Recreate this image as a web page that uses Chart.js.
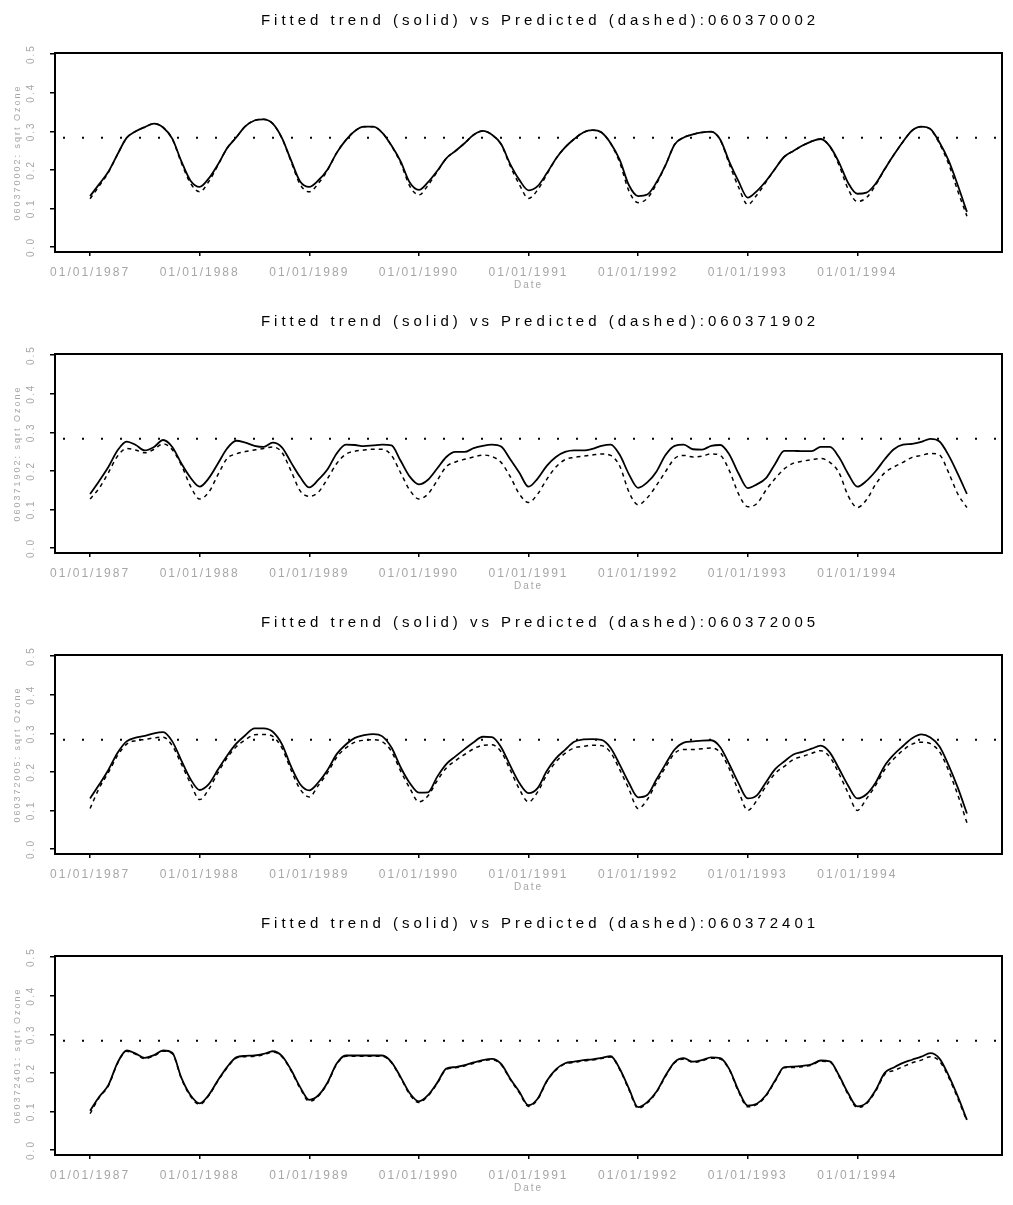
<!DOCTYPE html>
<html>
<head>
<meta charset="utf-8">
<title>Fitted trend vs Predicted</title>
<script src="https://cdn.jsdelivr.net/npm/chart.js@4.4.1/dist/chart.umd.min.js"></script>
<style>
    body { margin: 0; background: #fff; overflow: hidden; }
    #page { position: relative; width: 1013px; height: 1205px; }
    .panel { position: absolute; left: 0; width: 1013px; height: 301px; }
    .panel canvas { position: absolute; left: 0; top: 0; }
    .panel-title {
        position: absolute; left: 80px; top: 11px; width: 920px;
        text-align: center; line-height: 18px; color: #000;
        font: 15px "Liberation Sans", Arial, sans-serif; letter-spacing: 4px;
    }
</style>
</head>
<body>
<div id="page"></div>
<script>
// one panel per monitoring station
const stations = ['060370002', '060371902', '060372005', '060372401'];

// monthly values start here
const startYear = 1987;

// x axis ticks
const tickYears = [1987, 1988, 1989, 1990, 1991, 1992, 1993, 1994];
const tickLabels = ['01/01/1987', '01/01/1988', '01/01/1989', '01/01/1990',
    '01/01/1991', '01/01/1992', '01/01/1993', '01/01/1994'];

// y axis ticks
const yTicks = [0.0, 0.1, 0.2, 0.3, 0.4, 0.5];

// horizontal dotted reference level
const ozoneStandard = 0.283;

// station 060370002
const fitted0002 = [
    0.132, 0.163, 0.195, 0.240, 0.283, 0.300, 0.311, 0.320, 0.310, 0.281, 0.222, 0.172,
    0.156, 0.178, 0.214, 0.256, 0.284, 0.313, 0.328, 0.331, 0.320, 0.283, 0.225, 0.170,
    0.156, 0.173, 0.201, 0.244, 0.277, 0.301, 0.312, 0.312, 0.296, 0.263, 0.222, 0.167,
    0.148, 0.168, 0.197, 0.230, 0.249, 0.269, 0.291, 0.301, 0.291, 0.267, 0.215, 0.174,
    0.147, 0.158, 0.191, 0.229, 0.258, 0.280, 0.297, 0.303, 0.297, 0.269, 0.225, 0.160,
    0.132, 0.136, 0.167, 0.212, 0.266, 0.284, 0.292, 0.297, 0.299, 0.278, 0.220, 0.170,
    0.128, 0.145, 0.171, 0.203, 0.234, 0.249, 0.263, 0.274, 0.280, 0.261, 0.219, 0.166,
    0.138, 0.141, 0.164, 0.202, 0.239, 0.273, 0.302, 0.312, 0.306, 0.271, 0.224, 0.160,
    0.091
];
const predicted0002 = [
    0.125, 0.158, 0.193, 0.240, 0.283, 0.300, 0.311, 0.320, 0.310, 0.280, 0.218, 0.165,
    0.143, 0.170, 0.212, 0.256, 0.284, 0.313, 0.328, 0.331, 0.320, 0.282, 0.222, 0.162,
    0.143, 0.165, 0.199, 0.244, 0.277, 0.301, 0.312, 0.312, 0.296, 0.262, 0.218, 0.158,
    0.135, 0.160, 0.195, 0.230, 0.249, 0.269, 0.291, 0.301, 0.291, 0.266, 0.210, 0.162,
    0.126, 0.148, 0.188, 0.229, 0.258, 0.280, 0.297, 0.303, 0.297, 0.268, 0.218, 0.145,
    0.115, 0.126, 0.163, 0.212, 0.266, 0.284, 0.292, 0.297, 0.299, 0.277, 0.214, 0.155,
    0.110, 0.135, 0.168, 0.203, 0.234, 0.249, 0.263, 0.274, 0.280, 0.260, 0.212, 0.150,
    0.118, 0.128, 0.160, 0.202, 0.239, 0.273, 0.302, 0.312, 0.305, 0.268, 0.215, 0.145,
    0.080
];

// station 060371902
const fitted1902 = [
    0.140, 0.174, 0.210, 0.253, 0.276, 0.267, 0.253, 0.262, 0.280, 0.262, 0.219, 0.182,
    0.159, 0.181, 0.219, 0.258, 0.278, 0.273, 0.265, 0.262, 0.273, 0.261, 0.222, 0.184,
    0.157, 0.177, 0.204, 0.245, 0.268, 0.267, 0.264, 0.266, 0.268, 0.266, 0.226, 0.185,
    0.165, 0.177, 0.206, 0.236, 0.249, 0.249, 0.259, 0.265, 0.268, 0.263, 0.230, 0.195,
    0.159, 0.180, 0.213, 0.236, 0.249, 0.253, 0.253, 0.257, 0.265, 0.268, 0.241, 0.191,
    0.156, 0.170, 0.198, 0.241, 0.265, 0.268, 0.256, 0.255, 0.265, 0.267, 0.242, 0.193,
    0.155, 0.165, 0.181, 0.218, 0.252, 0.252, 0.251, 0.251, 0.262, 0.262, 0.235, 0.192,
    0.159, 0.174, 0.199, 0.230, 0.256, 0.268, 0.270, 0.275, 0.283, 0.276, 0.240, 0.192,
    0.140
];
const predicted1902 = [
    0.127, 0.155, 0.195, 0.238, 0.258, 0.254, 0.247, 0.256, 0.270, 0.255, 0.215, 0.160,
    0.127, 0.145, 0.190, 0.232, 0.244, 0.250, 0.254, 0.258, 0.262, 0.248, 0.200, 0.148,
    0.134, 0.145, 0.180, 0.219, 0.243, 0.251, 0.254, 0.256, 0.256, 0.240, 0.195, 0.150,
    0.127, 0.140, 0.175, 0.211, 0.223, 0.230, 0.236, 0.241, 0.237, 0.222, 0.185, 0.140,
    0.118, 0.140, 0.178, 0.210, 0.229, 0.235, 0.238, 0.241, 0.244, 0.240, 0.212, 0.145,
    0.112, 0.130, 0.162, 0.198, 0.232, 0.240, 0.236, 0.238, 0.244, 0.240, 0.200, 0.140,
    0.107, 0.115, 0.150, 0.180, 0.205, 0.220, 0.225, 0.229, 0.232, 0.222, 0.195, 0.135,
    0.105, 0.125, 0.165, 0.195, 0.210, 0.222, 0.235, 0.240, 0.245, 0.241, 0.195, 0.140,
    0.105
];

// station 060372005
const fitted2005 = [
    0.131, 0.167, 0.205, 0.249, 0.279, 0.289, 0.293, 0.300, 0.303, 0.279, 0.229, 0.181,
    0.153, 0.168, 0.206, 0.242, 0.273, 0.295, 0.313, 0.313, 0.304, 0.272, 0.214, 0.168,
    0.152, 0.173, 0.205, 0.246, 0.271, 0.288, 0.295, 0.298, 0.292, 0.263, 0.212, 0.171,
    0.146, 0.147, 0.187, 0.220, 0.240, 0.259, 0.277, 0.291, 0.290, 0.264, 0.216, 0.171,
    0.145, 0.158, 0.202, 0.235, 0.257, 0.278, 0.284, 0.285, 0.283, 0.262, 0.218, 0.171,
    0.134, 0.140, 0.180, 0.220, 0.258, 0.276, 0.279, 0.281, 0.282, 0.264, 0.219, 0.170,
    0.131, 0.139, 0.173, 0.207, 0.227, 0.245, 0.252, 0.260, 0.268, 0.250, 0.208, 0.164,
    0.131, 0.142, 0.172, 0.216, 0.245, 0.267, 0.287, 0.297, 0.289, 0.266, 0.217, 0.159,
    0.092
];
const predicted2005 = [
    0.105, 0.158, 0.198, 0.242, 0.272, 0.281, 0.284, 0.288, 0.290, 0.268, 0.220, 0.170,
    0.128, 0.155, 0.198, 0.236, 0.265, 0.283, 0.296, 0.297, 0.292, 0.262, 0.205, 0.155,
    0.135, 0.165, 0.198, 0.238, 0.262, 0.277, 0.282, 0.283, 0.278, 0.253, 0.202, 0.158,
    0.122, 0.138, 0.177, 0.210, 0.229, 0.245, 0.260, 0.269, 0.270, 0.252, 0.205, 0.155,
    0.122, 0.148, 0.192, 0.226, 0.248, 0.262, 0.266, 0.269, 0.268, 0.250, 0.205, 0.155,
    0.105, 0.128, 0.172, 0.212, 0.248, 0.258, 0.258, 0.260, 0.262, 0.250, 0.207, 0.150,
    0.100, 0.126, 0.163, 0.196, 0.214, 0.232, 0.240, 0.248, 0.255, 0.238, 0.195, 0.145,
    0.100, 0.130, 0.165, 0.206, 0.234, 0.256, 0.272, 0.277, 0.273, 0.252, 0.203, 0.140,
    0.068
];

// station 060372401
const fitted2401 = [
    0.102, 0.138, 0.168, 0.226, 0.258, 0.250, 0.239, 0.246, 0.258, 0.252, 0.187, 0.142,
    0.121, 0.143, 0.181, 0.215, 0.240, 0.244, 0.245, 0.249, 0.256, 0.244, 0.208, 0.163,
    0.130, 0.142, 0.175, 0.224, 0.245, 0.245, 0.245, 0.245, 0.245, 0.228, 0.189, 0.147,
    0.126, 0.142, 0.174, 0.211, 0.215, 0.220, 0.227, 0.233, 0.236, 0.223, 0.185, 0.151,
    0.116, 0.133, 0.179, 0.209, 0.225, 0.229, 0.233, 0.235, 0.239, 0.243, 0.210, 0.159,
    0.111, 0.124, 0.151, 0.193, 0.228, 0.238, 0.229, 0.233, 0.240, 0.238, 0.209, 0.154,
    0.115, 0.120, 0.142, 0.180, 0.215, 0.216, 0.218, 0.222, 0.232, 0.230, 0.193, 0.147,
    0.113, 0.122, 0.155, 0.200, 0.214, 0.226, 0.234, 0.242, 0.251, 0.237, 0.193, 0.139,
    0.078
];
const predicted2401 = [
    0.094, 0.136, 0.166, 0.224, 0.256, 0.248, 0.237, 0.244, 0.256, 0.250, 0.185, 0.139,
    0.118, 0.141, 0.179, 0.213, 0.238, 0.242, 0.243, 0.247, 0.254, 0.242, 0.206, 0.160,
    0.126, 0.140, 0.173, 0.222, 0.243, 0.243, 0.243, 0.243, 0.243, 0.226, 0.187, 0.144,
    0.123, 0.140, 0.172, 0.209, 0.213, 0.218, 0.225, 0.231, 0.234, 0.221, 0.183, 0.148,
    0.113, 0.131, 0.177, 0.207, 0.223, 0.227, 0.231, 0.233, 0.237, 0.241, 0.208, 0.156,
    0.108, 0.122, 0.149, 0.191, 0.226, 0.236, 0.227, 0.231, 0.238, 0.236, 0.207, 0.151,
    0.112, 0.118, 0.140, 0.178, 0.213, 0.214, 0.216, 0.220, 0.230, 0.228, 0.191, 0.144,
    0.110, 0.120, 0.152, 0.196, 0.206, 0.216, 0.226, 0.233, 0.242, 0.230, 0.188, 0.134,
    0.075
];

const fittedSeries = [fitted0002, fitted1902, fitted2005, fitted2401];
const predictedSeries = [predicted0002, predicted1902, predicted2005, predicted2401];

// axis limits (R style 4% padding around the date range)
const X_MIN = 1986.68;
const X_MAX = 1995.32;
const Y_MIN = -0.013;
const Y_MAX = 0.503;

const PANEL_HEIGHT = 301;
const LABEL_GREY = '#a6a6a6';
const FONT = '"Liberation Sans", Arial, sans-serif';

// month index -> decimal year
function toPoints(values) {
    return values.map((v, i) => ({ x: startYear + i / 12, y: v }));
}

// spread out the small grey axis text like the original
const spacingPlugin = {
    id: 'spacing',
    beforeUpdate(chart) { chart.ctx.letterSpacing = '2px'; },
    beforeDraw(chart) { chart.ctx.letterSpacing = '2px'; }
};

// frame around the plot region
const boxPlugin = {
    id: 'plotBox',
    afterDraw(chart) {
        const { ctx, chartArea: a } = chart;
        ctx.save();
        ctx.strokeStyle = '#000';
        ctx.lineWidth = 2;
        ctx.strokeRect(a.left, a.top, a.right - a.left, a.bottom - a.top);
        ctx.restore();
    }
};

function initPanel(index) {
    const page = document.getElementById('page');
    const panel = document.createElement('div');
    panel.className = 'panel';
    panel.style.top = (index * PANEL_HEIGHT) + 'px';

    const canvas = document.createElement('canvas');
    canvas.width = 1013;
    canvas.height = PANEL_HEIGHT;
    panel.appendChild(canvas);

    const title = document.createElement('div');
    title.className = 'panel-title';
    title.textContent = 'Fitted trend (solid) vs Predicted (dashed):' + stations[index];
    panel.appendChild(title);
    page.appendChild(panel);

    new Chart(canvas.getContext('2d'), {
        type: 'line',
        data: {
            datasets: [{
                label: 'Fitted trend',
                data: toPoints(fittedSeries[index]),
                borderColor: '#000',
                borderWidth: 1.8,
                tension: 0.4,
                cubicInterpolationMode: 'monotone',
                pointRadius: 0,
                fill: false
            }, {
                label: 'Predicted',
                data: toPoints(predictedSeries[index]),
                borderColor: '#000',
                borderWidth: 1.5,
                borderDash: [4, 4],
                tension: 0.4,
                cubicInterpolationMode: 'monotone',
                pointRadius: 0,
                fill: false
            }, {
                label: 'Standard',
                data: [{ x: X_MIN, y: ozoneStandard }, { x: X_MAX, y: ozoneStandard }],
                borderColor: '#000',
                borderWidth: 2,
                borderDash: [2, 17],
                borderDashOffset: 11,
                pointRadius: 0,
                fill: false
            }]
        },
        options: {
            responsive: false,
            animation: false,
            devicePixelRatio: 1,
            layout: { padding: { top: 53, right: 11, left: 0, bottom: 0 } },
            plugins: {
                legend: { display: false },
                tooltip: { enabled: false }
            },
            scales: {
                x: {
                    type: 'linear',
                    min: X_MIN,
                    max: X_MAX,
                    afterBuildTicks: scale => {
                        scale.ticks = tickYears.map(v => ({ value: v }));
                    },
                    afterFit: scale => { scale.height = 49; },
                    border: { display: false },
                    grid: {
                        drawOnChartArea: false,
                        drawTicks: true,
                        tickLength: 4,
                        color: '#000',
                        lineWidth: 1.5
                    },
                    ticks: {
                        autoSkip: false,
                        maxRotation: 0,
                        padding: 9,
                        color: LABEL_GREY,
                        font: { family: FONT, size: 12 },
                        callback: value => tickLabels[tickYears.indexOf(value)]
                    },
                    title: {
                        display: true,
                        text: 'Date',
                        color: LABEL_GREY,
                        font: { family: FONT, size: 10 },
                        padding: { top: 0, bottom: 10 }
                    }
                },
                y: {
                    min: Y_MIN,
                    max: Y_MAX,
                    afterBuildTicks: scale => {
                        scale.ticks = yTicks.map(v => ({ value: v }));
                    },
                    afterFit: scale => { scale.width = 55; },
                    border: { display: false },
                    grid: {
                        drawOnChartArea: false,
                        drawTicks: true,
                        tickLength: 5,
                        color: '#000',
                        lineWidth: 1.5
                    },
                    ticks: {
                        minRotation: 90,
                        maxRotation: 90,
                        crossAlign: 'center',
                        padding: 9,
                        color: LABEL_GREY,
                        font: { family: FONT, size: 10 },
                        callback: value => value.toFixed(1)
                    },
                    title: {
                        display: true,
                        text: stations[index] + ': sqrt Ozone',
                        color: LABEL_GREY,
                        font: { family: FONT, size: 9 },
                        padding: { top: 12, bottom: 0 }
                    }
                }
            }
        },
        plugins: [spacingPlugin, boxPlugin]
    });
}

document.addEventListener('DOMContentLoaded', function () {
    stations.forEach((id, i) => initPanel(i));
});
</script>
</body>
</html>
